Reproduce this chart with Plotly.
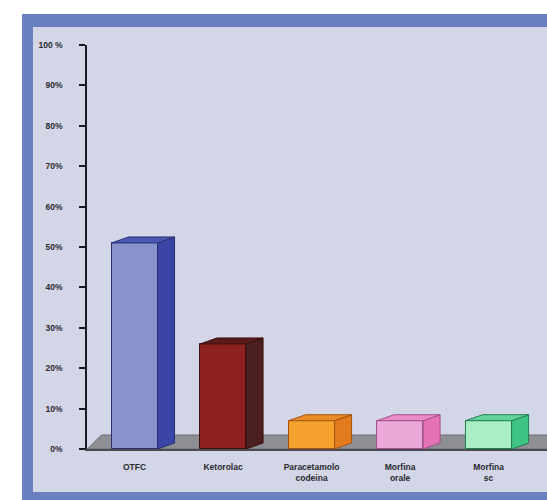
import plotly.graph_objects as go

# Data
categories = ["OTFC", "Ketorolac", "Paracetamolo<br>codeina", "Morfina<br>orale", "Morfina<br>sc"]
values = [51, 26, 7, 7, 7]
y_ticks = [0, 10, 20, 30, 40, 50, 60, 70, 80, 90, 100]
y_tick_labels = ["0%", "10%", "20%", "30%", "40%", "50%", "60%", "70%", "80%", "90%", "100 %"]

front_colors = ["#8892cb", "#8e2020", "#f6a22e", "#eaa9d9", "#aaeec4"]
side_colors = ["#3a45a6", "#4b1f1f", "#e27a1e", "#e472b4", "#3fc485"]
top_colors = ["#4c58b6", "#5a1a1a", "#ea8c26", "#ea8ccb", "#62d49c"]
edge_colors = ["#2a3070", "#3a1010", "#a35410", "#a0508a", "#208050"]

W, H = 547, 500
M_L, M_R, M_T, M_B = 87, 0, 45, 51
x_range = [-0.537, 4.66]
y_range = [0, 100]

plot_w = W - M_L - M_R
plot_h = H - M_T - M_B
px_x = plot_w / (x_range[1] - x_range[0])   # pixels per category unit
px_y = plot_h / (y_range[1] - y_range[0])   # pixels per percent

bar_w = 0.52
depth_dx = 17 / px_x
depth_dy = 6 / px_y

fig = go.Figure()

# Front faces of the bars
xs = list(range(len(categories)))
fig.add_trace(go.Bar(
    x=xs, y=values, width=bar_w,
    marker=dict(color=front_colors, line=dict(color=edge_colors, width=1)),
    showlegend=False, hoverinfo="skip",
))

# Side and top faces give each bar its 3D look
for i, v in enumerate(values):
    xr = i + bar_w / 2
    xl = i - bar_w / 2
    fig.add_trace(go.Scatter(
        x=[xr, xr + depth_dx, xr + depth_dx, xr, xr],
        y=[0, depth_dy, v + depth_dy, v, 0],
        fill="toself", fillcolor=side_colors[i], mode="lines",
        line=dict(color=edge_colors[i], width=1), hoverinfo="skip", showlegend=False,
    ))
    fig.add_trace(go.Scatter(
        x=[xl, xr, xr + depth_dx, xl + depth_dx, xl],
        y=[v, v, v + depth_dy, v + depth_dy, v],
        fill="toself", fillcolor=top_colors[i], mode="lines",
        line=dict(color=edge_colors[i], width=1), hoverinfo="skip", showlegend=False,
    ))

# Blue frame and pale panel behind the chart
def px_to_paper_x(p):
    return (p - M_L) / plot_w

def px_to_paper_y(p):
    return (H - M_B - p) / plot_h

# Grey floor slab under the bars (kept beneath the traces)
floor_dx = 14 / px_x
floor_dy = 14 / px_y
fx0 = x_range[0] + 0.005
fx1 = x_range[1] + 0.2
floor_path = (f"M {fx0},0 L {fx1},0 L {fx1 + floor_dx},{floor_dy} "
              f"L {fx0 + floor_dx},{floor_dy} Z")

shapes = [
    dict(type="rect", xref="paper", yref="paper", layer="below",
         x0=px_to_paper_x(22), x1=px_to_paper_x(560),
         y0=px_to_paper_y(510), y1=px_to_paper_y(14),
         fillcolor="#6b80c0", line=dict(width=0)),
    dict(type="rect", xref="paper", yref="paper", layer="below",
         x0=px_to_paper_x(33), x1=px_to_paper_x(560),
         y0=px_to_paper_y(492), y1=px_to_paper_y(27),
         fillcolor="#d3d6e6", line=dict(width=0)),
    dict(type="path", xref="x", yref="y", layer="below", path=floor_path,
         fillcolor="#8e8f94", line=dict(color="#6c6d72", width=1)),
]

tick_font = dict(family="Liberation Sans, Arial, sans-serif", size=8.5, color="#2a2a30")

fig.update_layout(
    width=W, height=H,
    margin=dict(l=M_L, r=M_R, t=M_T, b=M_B, pad=0),
    paper_bgcolor="white", plot_bgcolor="rgba(0,0,0,0)",
    shapes=shapes,
    bargap=0,
    xaxis=dict(
        range=x_range, tickvals=xs, ticktext=[f"<b>{c}</b>" for c in categories],
        showgrid=False, zeroline=False, showline=True, linecolor="#4a4a50", linewidth=1.5,
        ticks="", tickfont=tick_font, ticklabelstandoff=9, fixedrange=True,
    ),
    yaxis=dict(
        range=y_range, tickvals=y_ticks, ticktext=[f"<b>{t}</b>" for t in y_tick_labels],
        showgrid=False, zeroline=False, showline=True, linecolor="#1a1a22", linewidth=1.5,
        ticks="outside", ticklen=6, tickwidth=1.5, tickcolor="#1a1a22",
        tickfont=tick_font, ticklabelstandoff=15, fixedrange=True,
    ),
)

fig.write_html("out.html")
